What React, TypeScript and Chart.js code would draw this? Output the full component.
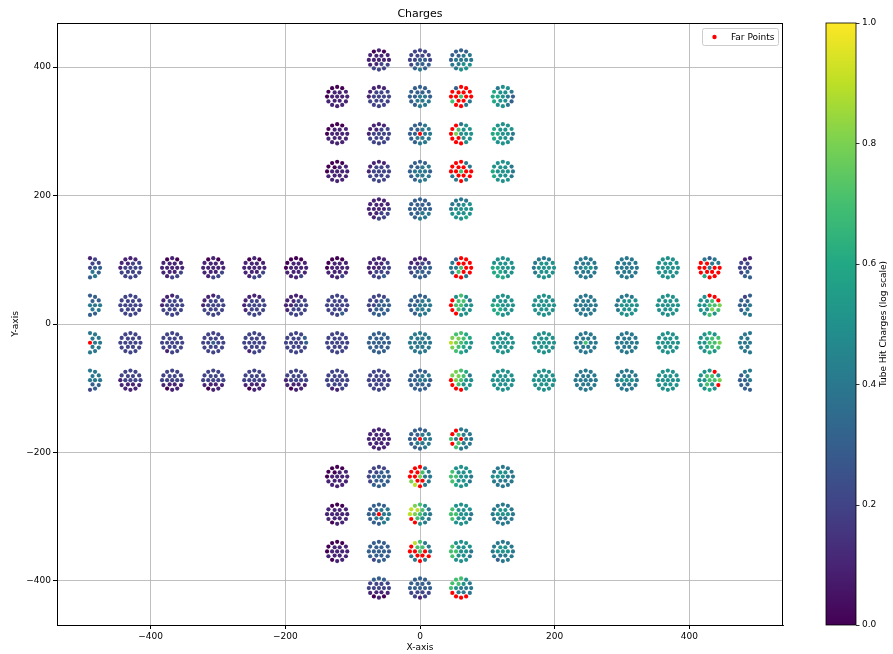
import React, { useEffect, useRef } from 'react';
import { Chart, registerables } from 'chart.js';

Chart.register(...registerables);

// ---------- axes / ticks ----------
const X_LIMITS = [-539, 539];
const Y_LIMITS = [-468.5, 468.5];
const X_TICKS = [-400, -200, 0, 200, 400];
const Y_TICKS = [-400, -200, 0, 200, 400];
const CB_TICKS = [0, 0.2, 0.4, 0.6, 0.8, 1.0];

// ---------- module centres (detector layout) ----------
const BARREL_X = [-490, -430, -368, -307, -246, -184, -123, -61, 0, 61, 123, 184, 246, 307, 368, 430, 490];
const BARREL_Y = [87.5, 29.2, -29.2, -87.5];
const CAP_X = [-123, -61, 0, 61, 123];
const CAP_TOP_Y = [411, 354, 296, 237.5, 179];
const CAP_BOTTOM_Y = [-179, -237.5, -296, -354, -411];

// ---------- dot pattern inside a module (rows of 3,4,5,4,3) ----------
const RING_RADIUS = [0, 7.5, 15];
const DOT_RING = [2, 2, 2, 2, 1, 1, 2, 2, 1, 0, 1, 2, 2, 1, 1, 2, 2, 2, 2];
const DOT_ANGLE = [120, 90, 60, 150, 120, 60, 30, 180, 180, 0, 0, 0, 210, 240, 300, 330, 240, 270, 300];

// ---------- charges per dot: digit = charge x10, r = far point, - = not shown ----------
const TOP_CAP = [
  [null, '010/1111/11111/1122/222', '222/2222/22332/2333/343', '333/3344/34444/4455/455', null],
  ['000/0111/01111/1111/111', '111/1222/12222/2222/222', '333/3333/33443/3444/344', '3rr/rrrr/rr7rr/7rr4/rr4', '455/6554/66543/6553/554'],
  ['000/0111/01111/1111/111', '111/1122/12222/2222/222', '334/3344/33r44/3444/344', 'r45/r755/r8555/rr55/rr5', '555/6555/66554/6554/555'],
  ['000/0011/01111/1111/111', '111/1222/12222/2222/222', '333/3344/34443/3444/344', 'rr4/rrr4/rr7rr/4rrr/4r4', '555/5554/65554/6554/555'],
  [null, '111/1111/11112/1122/122', '333/3333/33333/3344/344', '444/4455/45555/5555/556', null],
];
const BOTTOM_CAP = [
  [null, '111/1111/11111/1111/111', '333/3344/33r44/3444/334', 'r44/r744/74r44/r744/744', null],
  ['000/0011/01111/1111/111', '222/2233/23333/2333/333', 'rr4/rr74/rr844/8rr4/9r4', '555/7555/77554/7554/655', '444/4554/55544/4444/444'],
  ['000/1111/11111/1111/011', '333/3344/33r44/3444/334', '875/9974/98754/r754/r54', '555/7555/77554/7554/555', '444/4554/45554/4444/444'],
  ['000/0111/01111/1111/011', '333/3333/33333/3333/233', '974/r774/rr7r4/4rrr/4r4', '555/7555/77554/7554/555', '444/4554/45554/4444/344'],
  [null, '333/2222/22222/1111/010', '333/3333/33333/2222/212', '775/7754/75444/r444/rrr', null],
];
const BARREL_ROW_1 = [
  '-12/--22/--233/--43/-34', '111/1122/12222/2222/222', '010/1111/11111/1112/122', '010/1111/11111/1112/122',
  '010/1111/11111/1112/122', '000/0111/01111/1111/112', '000/0111/01111/1111/112', '111/1112/11122/1222/223',
  '111/1122/22233/2333/333', '3rr/4rrr/447rr/47rr/rr4', '555/5555/66555/6655/665', '444/4555/45555/4555/555',
  '444/4444/44554/4444/444', '444/4444/44444/4444/444', '555/5555/55555/5555/555', '434/rr44/rr4rr/rrrr/6rr',
  '11-/22--/222--/23--/33-',
];
const BARREL_ROW_2 = [
  '-33/--33/--444/--44/-33', '222/2222/22222/2222/222', '112/1222/12222/2222/222', '112/1222/12222/2222/222',
  '111/1222/12222/1222/222', '111/1122/11222/1222/222', '222/2222/22222/2222/223', '222/2233/22333/2333/333',
  '333/3344/33444/3444/344', '575/r774/r7755/r755/r55', '555/5555/66555/6655/655', '555/5555/55555/5555/555',
  '444/4444/44444/4444/444', '444/4555/45555/4555/555', '555/5555/55555/5555/555', '5rr/557r/55778/5587/575',
  '23-/33--/334--/34--/44-',
];
const BARREL_ROW_3 = [
  '-44/--44/--r44/--44/-44', '222/2222/22222/2222/222', '222/2222/22222/2222/122', '222/2222/22322/2222/222',
  '222/2222/22222/2222/122', '222/2223/22223/2222/222', '222/2222/22222/2222/222', '333/3333/33333/3333/333',
  '444/4444/44444/4444/444', '776/8876/98765/8765/765', '555/5555/55555/5555/555', '555/5555/55555/5555/555',
  '444/4444/44744/4444/444', '444/4444/44444/4444/444', '555/5555/55555/5555/555', '565/5677/55778/5677/565',
  '44-/44--/444--/44--/44-',
];
const BARREL_ROW_4 = [
  '-44/--44/--444/--33/-23', '222/2222/12222/1111/111', '222/2222/22222/1111/011', '222/2222/22222/1111/011',
  '222/2222/22222/1111/011', '222/2222/12222/1111/011', '222/2222/22222/2222/112', '222/2222/22222/2222/222',
  '333/3344/33443/3333/333', '876/8874/r8755/r755/rr5', '555/5555/55555/5555/555', '555/5555/55555/5555/555',
  '444/4444/44444/4444/444', '444/4444/45554/4444/444', '555/5555/55555/5555/555', '55r/5775/55778/575r/565',
  '44-/34--/334--/33--/33-',
];
const BARREL = [BARREL_ROW_1, BARREL_ROW_2, BARREL_ROW_3, BARREL_ROW_4];

// ---------- colormap ----------
const VIRIDIS = ['#440154', '#482475', '#414487', '#355f8d', '#2a788e', '#21918c', '#22a884', '#44bf70', '#7ad151', '#bddf26', '#fde725'];

const FONT = 'DejaVu Sans';

function hexToRgb(h: string) {
  return [parseInt(h.slice(1, 3), 16), parseInt(h.slice(3, 5), 16), parseInt(h.slice(5, 7), 16)];
}
function viridis(v: number) {
  const t = Math.max(0, Math.min(1, v)) * (VIRIDIS.length - 1);
  const i = Math.min(VIRIDIS.length - 2, Math.floor(t));
  const f = t - i;
  const a = hexToRgb(VIRIDIS[i]);
  const b = hexToRgb(VIRIDIS[i + 1]);
  const c = a.map((x, k) => Math.round(x + (b[k] - x) * f));
  return `rgb(${c[0]},${c[1]},${c[2]})`;
}

type Pt = { x: number; y: number; v?: number };

function addModule(cx: number, cy: number, code: string | null, hits: Pt[], far: Pt[]) {
  if (!code) return;
  const chars = code.replace(/\//g, '').split('');
  chars.forEach((c, i) => {
    if (c === '-') return;
    const r = RING_RADIUS[DOT_RING[i]];
    const a = (DOT_ANGLE[i] * Math.PI) / 180;
    const p: Pt = { x: cx + r * Math.cos(a), y: cy + r * Math.sin(a) };
    if (c === 'r') far.push(p);
    else hits.push({ ...p, v: Number(c) / 10 });
  });
}

function buildPoints() {
  const hits: Pt[] = [];
  const far: Pt[] = [];
  TOP_CAP.forEach((row, ri) => row.forEach((code, ci) => addModule(CAP_X[ci], CAP_TOP_Y[ri], code, hits, far)));
  BARREL.forEach((row, ri) => row.forEach((code, ci) => addModule(BARREL_X[ci], BARREL_Y[ri], code, hits, far)));
  BOTTOM_CAP.forEach((row, ri) => row.forEach((code, ci) => addModule(CAP_X[ci], CAP_BOTTOM_Y[ri], code, hits, far)));
  return { hits, far };
}

const fmt = (v: number) => (v < 0 ? '\u2212' + Math.abs(v) : String(v));

const decorPlugin = {
  id: 'decor',
  afterDraw(chart: any) {
    const { ctx, chartArea: ca } = chart;
    const cb = chart.scales.cb;
    ctx.save();
    // top & right spines
    ctx.strokeStyle = '#000';
    ctx.lineWidth = 1;
    ctx.beginPath();
    ctx.moveTo(ca.left, Math.round(ca.top) + 0.5);
    ctx.lineTo(ca.right, Math.round(ca.top) + 0.5);
    ctx.moveTo(Math.round(ca.right) - 0.5, ca.top);
    ctx.lineTo(Math.round(ca.right) - 0.5, ca.bottom);
    ctx.stroke();

    // title
    ctx.fillStyle = '#000';
    ctx.font = `11px "${FONT}"`;
    ctx.textAlign = 'center';
    ctx.textBaseline = 'middle';
    ctx.fillText('Charges', (ca.left + ca.right) / 2, ca.top - 9);

    // legend
    const farDs = chart.data.datasets[1];
    const lw = 76, lh = 17;
    const lx = ca.right - 81, ly = ca.top + 5;
    ctx.fillStyle = 'rgba(255,255,255,0.8)';
    ctx.strokeStyle = '#cccccc';
    ctx.lineWidth = 1;
    ctx.beginPath();
    (ctx as any).roundRect(lx + 0.5, ly + 0.5, lw, lh, 2);
    ctx.fill();
    ctx.stroke();
    ctx.fillStyle = farDs.pointBackgroundColor;
    ctx.beginPath();
    ctx.arc(lx + 12.5, ly + lh / 2 + 0.5, 2.2, 0, Math.PI * 2);
    ctx.fill();
    ctx.fillStyle = '#000';
    ctx.font = `9px "${FONT}"`;
    ctx.textAlign = 'left';
    ctx.fillText(farDs.label, lx + 29, ly + lh / 2 + 1);

    // colorbar
    const bx0 = cb.left + 43, bx1 = cb.left + 73;
    const yb = cb.getPixelForValue(0), yt = cb.getPixelForValue(1);
    const g = ctx.createLinearGradient(0, yb, 0, yt);
    VIRIDIS.forEach((c, i) => g.addColorStop(i / (VIRIDIS.length - 1), c));
    ctx.fillStyle = g;
    ctx.fillRect(bx0, yt, bx1 - bx0, yb - yt);
    ctx.strokeStyle = '#000';
    ctx.lineWidth = 0.8;
    ctx.strokeRect(bx0, yt, bx1 - bx0, yb - yt);
    ctx.beginPath();
    CB_TICKS.forEach((v) => {
      const y = Math.round(cb.getPixelForValue(v)) + 0.5;
      ctx.moveTo(bx1, y);
      ctx.lineTo(bx1 + 3.5, y);
    });
    ctx.stroke();
    ctx.save();
    ctx.translate(cb.right - 9, (yt + yb) / 2);
    ctx.rotate(-Math.PI / 2);
    ctx.fillStyle = '#000';
    ctx.font = `9px "${FONT}"`;
    ctx.textAlign = 'center';
    ctx.textBaseline = 'middle';
    ctx.fillText('Tube Hit Charges (log scale)', 0, 0);
    ctx.restore();
    ctx.restore();
  },
};

const noPad = (s: any) => {
  s.paddingTop = 0;
  s.paddingBottom = 0;
  s.paddingLeft = 0;
  s.paddingRight = 0;
};

export default function App() {
  const ref = useRef<HTMLCanvasElement>(null);
  useEffect(() => {
    if (!ref.current) return;
    const { hits, far } = buildPoints();
    const tickFont = { family: FONT, size: 9 };
    const chart = new Chart(ref.current, {
      type: 'scatter',
      data: {
        datasets: [
          {
            label: 'Tube Hits',
            data: hits,
            pointBackgroundColor: hits.map((p) => viridis(p.v as number)),
            pointRadius: 2.1,
            pointBorderWidth: 0,
            pointHoverRadius: 2.1,
          },
          {
            label: 'Far Points',
            data: far,
            pointBackgroundColor: '#ff0000',
            pointRadius: 2.1,
            pointBorderWidth: 0,
            pointHoverRadius: 2.1,
          },
        ],
      } as any,
      options: {
        animation: false,
        responsive: false,
        events: [],
        layout: { padding: { top: 23, left: 0, right: 0, bottom: 0 } },
        plugins: { legend: { display: false }, tooltip: { enabled: false }, title: { display: false } },
        scales: {
          x: {
            type: 'linear',
            position: 'bottom',
            min: X_LIMITS[0],
            max: X_LIMITS[1],
            z: 1,
            afterBuildTicks: (s: any) => { s.ticks = X_TICKS.map((v) => ({ value: v })); },
            afterFit: (s: any) => { s.height = 29; noPad(s); },
            grid: { color: '#b0b0b0', lineWidth: 0.8, tickColor: '#000', tickLength: 4, tickWidth: 1 },
            border: { display: true, color: '#000', width: 1 },
            ticks: { color: '#000', font: tickFont, padding: 2, maxRotation: 0, autoSkip: false, callback: (v: any) => fmt(Number(v)) },
            title: { display: true, text: 'X-axis', color: '#000', font: tickFont, padding: { top: 0, bottom: 1 } },
          },
          y: {
            type: 'linear',
            position: 'left',
            min: Y_LIMITS[0],
            max: Y_LIMITS[1],
            z: 1,
            afterBuildTicks: (s: any) => { s.ticks = Y_TICKS.map((v) => ({ value: v })); },
            afterFit: (s: any) => { s.width = 57; noPad(s); },
            grid: { color: '#b0b0b0', lineWidth: 0.8, tickColor: '#000', tickLength: 4, tickWidth: 1 },
            border: { display: true, color: '#000', width: 1 },
            ticks: { color: '#000', font: tickFont, padding: 2, autoSkip: false, callback: (v: any) => fmt(Number(v)) },
            title: { display: true, text: 'Y-axis', color: '#000', font: tickFont, padding: { top: 10, bottom: 0 } },
          },
          cb: {
            type: 'linear',
            position: 'right',
            display: true,
            min: 0,
            max: 1,
            afterBuildTicks: (s: any) => { s.ticks = CB_TICKS.map((v) => ({ value: v })); },
            afterFit: (s: any) => { s.width = 110; noPad(s); },
            grid: { display: false, drawTicks: false },
            border: { display: false },
            ticks: { color: '#000', font: tickFont, padding: 79, autoSkip: false, callback: (v: any) => Number(v).toFixed(1) },
          },
        },
      } as any,
      plugins: [decorPlugin],
    });
    return () => chart.destroy();
  }, []);
  return (
    <div style={{ position: 'absolute', left: 0, top: 0, width: 893, height: 654, background: '#fff' }}>
      <canvas ref={ref} width={893} height={654} style={{ display: 'block' }} />
    </div>
  );
}
